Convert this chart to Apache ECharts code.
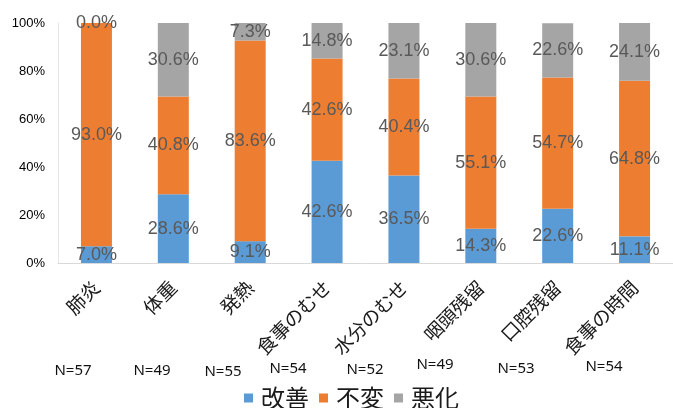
<!DOCTYPE html>
<html>
<head>
<meta charset="utf-8">
<script src="https://cdn.jsdelivr.net/npm/echarts@6/dist/echarts.min.js"></script>
<style>
  html, body { margin: 0; padding: 0; background: #fff; }
  #chart { width: 673px; height: 408px; }
</style>
</head>
<body>
<div id="chart"></div>
<script>
// Items evaluated
const categories = ['肺炎', '体重', '発熱', '食事のむせ', '水分のむせ', '咽頭残留', '口腔残留', '食事の時間'];
// Share of each outcome per item (%)
const improved  = [7.0, 28.6, 9.1, 42.6, 36.5, 14.3, 22.6, 11.1];
const unchanged = [93.0, 40.8, 83.6, 42.6, 40.4, 55.1, 54.7, 64.8];
const worsened  = [0.0, 30.6, 7.3, 14.8, 23.1, 30.6, 22.6, 24.1];
// Number of cases per item
const sampleSizes = [57, 49, 55, 54, 52, 49, 53, 54];
const seriesNames = ['改善', '不変', '悪化'];
const yTicks = [0, 20, 40, 60, 80, 100];

const colors = ['#5B9BD5', '#ED7D31', '#A5A5A5'];
const latin = '"Liberation Sans", Arial, sans-serif';
const cjk = '"Noto Sans CJK JP", "Noto Sans", sans-serif';

// Placement of the N= captions under the axis labels (pixel centre x, y)
const nCaptionPos = [[73, 371], [152, 371], [223, 372], [288, 369], [365, 370], [435, 365], [516, 369], [604, 367]];

const chart = echarts.init(document.getElementById('chart'), null, { renderer: 'canvas' });

function makeSeries(name, data, idx) {
  return {
    name: name,
    type: 'bar',
    stack: 'total',
    barWidth: 31,
    data: data,
    itemStyle: { color: colors[idx] },
    label: {
      show: true,
      position: 'inside',
      formatter: p => p.value.toFixed(1) + '%',
      color: '#595959',
      fontFamily: latin,
      fontSize: 18
    },
    emphasis: { disabled: true }
  };
}

chart.setOption({
  animation: false,
  color: colors,
  grid: { left: 58, right: -8, top: 23, bottom: 145, containLabel: false },
  legend: {
    data: seriesNames,
    left: 244,
    top: 386,
    padding: 0,
    icon: 'rect',
    itemWidth: 9,
    itemHeight: 9,
    itemGap: 10,
    textStyle: { fontFamily: cjk, fontSize: 24, lineHeight: 24, color: '#1a1a1a', padding: [0, 0, 0, 3] }
  },
  xAxis: {
    type: 'category',
    data: categories,
    axisLine: { show: true, lineStyle: { color: '#D9D9D9', width: 1 } },
    axisTick: { show: false },
    axisLabel: {
      rotate: 45,
      margin: 21,
      interval: 0,
      fontFamily: cjk,
      fontSize: 19,
      color: '#1a1a1a'
    }
  },
  yAxis: {
    type: 'value',
    min: yTicks[0],
    max: yTicks[yTicks.length - 1],
    interval: yTicks[1] - yTicks[0],
    axisLine: { show: true, lineStyle: { color: '#E6E6E6', width: 1 } },
    axisTick: { show: false },
    splitLine: { show: false },
    axisLabel: {
      formatter: '{value}%',
      margin: 13,
      fontFamily: latin,
      fontSize: 13,
      color: '#000'
    }
  },
  series: [
    makeSeries(seriesNames[0], improved, 0),
    makeSeries(seriesNames[1], unchanged, 1),
    makeSeries(seriesNames[2], worsened, 2)
  ],
  graphic: sampleSizes.map((n, i) => ({
    type: 'text',
    x: nCaptionPos[i][0],
    y: nCaptionPos[i][1],
    style: {
      text: 'N=' + n,
      fontFamily: '"Noto Sans", sans-serif',
      fontSize: 15,
      fill: '#111',
      align: 'center',
      verticalAlign: 'middle'
    }
  }))
});
</script>
</body>
</html>
